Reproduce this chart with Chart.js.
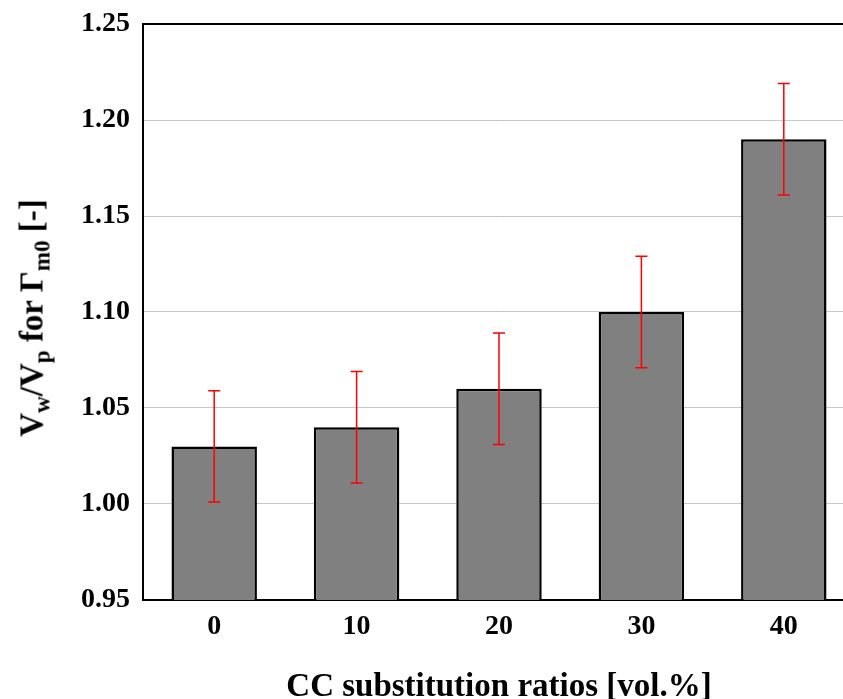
<!DOCTYPE html>
<html>
<head>
<meta charset="utf-8">
<script src="https://cdn.jsdelivr.net/npm/chart.js@4/dist/chart.umd.min.js"></script>
<style>
  body { margin: 0; overflow: hidden; background: #fff; }
  #wrap { position: relative; width: 860px; height: 699px; }
  #yTitle {
    position: absolute; left: 31.5px; top: 317.5px;
    transform: translate(-50%, -50%) rotate(-90deg);
    font: bold 33px "Liberation Serif", serif; line-height: 1;
    white-space: nowrap; color: #000;
  }
  #yTitle sub { font-size: 0.7em; vertical-align: -0.3em; line-height: 0; }
</style>
</head>
<body>
<div id="wrap">
  <canvas id="chart" width="860" height="699"></canvas>
  <div id="yTitle">V<sub>w</sub>/V<sub>p</sub> for Γ<sub>m0</sub> [-]</div>
</div>
<script>
// Chart data
const categories = ['0', '10', '20', '30', '40'];
const ratios = [1.03, 1.04, 1.06, 1.10, 1.19];
const errors = [0.029, 0.029, 0.029, 0.029, 0.029];
const yTicks = [0.95, 1.00, 1.05, 1.10, 1.15, 1.20, 1.25];

const serif = '"Liberation Serif", serif';

// Draw red error bars on top of each bar
const errorBars = {
    id: 'errorBars',
    afterDatasetsDraw(chart) {
        const ctx = chart.ctx;
        const y = chart.scales.y;
        const bars = chart.getDatasetMeta(0).data;
        ctx.save();
        ctx.strokeStyle = '#ff0000';
        ctx.lineWidth = 1.5;
        bars.forEach((bar, i) => {
            const top = y.getPixelForValue(ratios[i] + errors[i]);
            const bottom = y.getPixelForValue(ratios[i] - errors[i]);
            ctx.beginPath();
            ctx.moveTo(bar.x, top);
            ctx.lineTo(bar.x, bottom);
            ctx.moveTo(bar.x - 6, top);
            ctx.lineTo(bar.x + 6, top);
            ctx.moveTo(bar.x - 6, bottom);
            ctx.lineTo(bar.x + 6, bottom);
            ctx.stroke();
        });
        ctx.restore();
    }
};

const ctx = document.getElementById('chart').getContext('2d');
new Chart(ctx, {
    type: 'bar',
    data: {
        labels: categories,
        datasets: [{
            data: ratios,
            backgroundColor: '#808080',
            borderColor: '#000000',
            borderWidth: 2.5,
            borderSkipped: false,
            barPercentage: 0.6,
            categoryPercentage: 1.0
        }]
    },
    options: {
        responsive: false,
        animation: false,
        layout: { padding: { left: 0, top: 24, right: 5, bottom: 0 } },
        plugins: { legend: { display: false }, tooltip: { enabled: false } },
        scales: {
            x: {
                grid: { display: false, drawTicks: false },
                border: { color: '#000000', width: 2 },
                ticks: { color: '#000', padding: 10, font: { family: serif, size: 28, weight: 'bold' } },
                title: {
                    display: true,
                    text: 'CC substitution ratios [vol.%]',
                    color: '#000',
                    padding: { top: 0, bottom: -5 },
                    font: { family: serif, size: 33, weight: 'bold', lineHeight: 1 }
                },
                afterFit(scale) { scale.height = 99; }
            },
            y: {
                min: yTicks[0],
                max: yTicks[yTicks.length - 1],
                afterBuildTicks(scale) { scale.ticks = yTicks.map(v => ({ value: v })); },
                grid: {
                    drawTicks: false,
                    color: c => (c.tick && Math.abs(c.tick.value - 1.25) < 1e-6) ? '#000000' : '#c8c8c8',
                    lineWidth: c => (c.tick && Math.abs(c.tick.value - 1.25) < 1e-6) ? 2 : 1
                },
                border: { color: '#000000', width: 2 },
                ticks: {
                    color: '#000',
                    padding: 13,
                    font: { family: serif, size: 28, weight: 'bold', lineHeight: 0.75 },
                    callback: v => Number(v).toFixed(2)
                },
                afterFit(scale) { scale.width = 143; }
            }
        }
    },
    plugins: [errorBars]
});
</script>
</body>
</html>
